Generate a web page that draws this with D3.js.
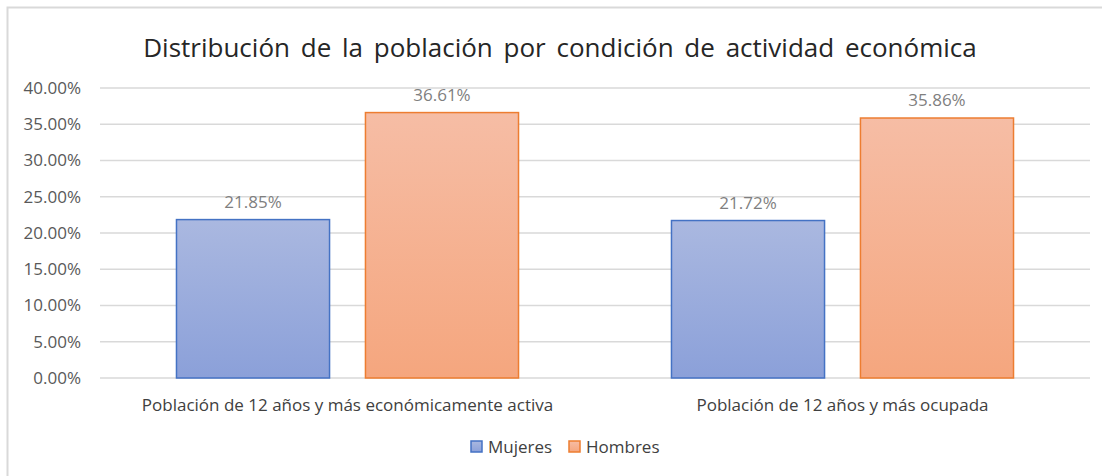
<!DOCTYPE html>
<html>
<head>
<meta charset="utf-8">
<script src="https://cdn.jsdelivr.net/npm/d3@7"></script>
<style>
  body { margin: 0; background: #fff; }
  svg { display: block; font-family: "Open Sans", Lato, sans-serif; }
</style>
</head>
<body>
<div id="chart"></div>
<script>
// data
const categories = ["Población de 12 años y más económicamente activa", "Población de 12 años y más ocupada"];
const seriesNames = ["Mujeres", "Hombres"];
const mujeres = [21.85, 21.72];
const hombres = [36.61, 35.86];
const yTicks = [0, 5, 10, 15, 20, 25, 30, 35, 40];

const W = 1102, H = 476;
const margin = { top: 88, right: 12, bottom: 98, left: 100 };

const svg = d3.select("#chart").append("svg")
  .attr("width", W).attr("height", H);

// gradients, light at top, darker at base
const defs = svg.append("defs");
const grads = [
  { id: "gM", top: "#aab8e0", bot: "#8ba0d9" },
  { id: "gH", top: "#f6bda5", bot: "#f5a67e" }
];
grads.forEach(g => {
  const lg = defs.append("linearGradient").attr("id", g.id)
    .attr("x1", 0).attr("y1", 0).attr("x2", 0).attr("y2", 1);
  lg.append("stop").attr("offset", "0%").attr("stop-color", g.top);
  lg.append("stop").attr("offset", "100%").attr("stop-color", g.bot);
});
const fills = ["url(#gM)", "url(#gH)"];
const strokes = ["#4472c4", "#ed7d31"];

// chart area border (only top/left are inside the picture)
svg.append("path")
  .attr("d", "M7.5," + H + " V7.5 H" + W)
  .attr("fill", "none").attr("stroke", "#d9d9d9").attr("stroke-width", 2);

const x0 = d3.scaleBand().domain(categories)
  .range([margin.left, W - margin.right])
  .paddingInner(0.309).paddingOuter(0.1545);
const x1 = d3.scaleBand().domain(seriesNames)
  .range([0, x0.bandwidth()]).paddingInner(0.19);
const y = d3.scaleLinear().domain([0, 40])
  .range([H - margin.bottom, margin.top]);

// gridlines
svg.append("g").selectAll("line").data(yTicks).enter().append("line")
  .attr("x1", margin.left).attr("x2", W - margin.right)
  .attr("y1", d => y(d)).attr("y2", d => y(d))
  .attr("stroke", "#d9d9d9").attr("stroke-width", 1.3);

// y axis labels
const yAxis = d3.axisLeft(y).tickValues(yTicks)
  .tickFormat(d => d.toFixed(2) + "%").tickSize(0).tickPadding(0);
const ya = svg.append("g").attr("transform", "translate(81,0)").call(yAxis);
ya.select(".domain").remove();
ya.selectAll("text").attr("fill", "#595959").style("font-size", "17px")
  .style("font-family", "'Open Sans', Lato, sans-serif");

const rows = categories.map((c, i) => ({
  cat: c,
  vals: [{ s: 0, v: mujeres[i] }, { s: 1, v: hombres[i] }]
}));

const grp = svg.append("g").selectAll("g").data(rows).enter().append("g")
  .attr("transform", d => "translate(" + x0(d.cat) + ",0)");

grp.selectAll("rect").data(d => d.vals).enter().append("rect")
  .attr("x", d => x1(seriesNames[d.s]))
  .attr("width", x1.bandwidth())
  .attr("y", d => y(d.v))
  .attr("height", d => y(0) - y(d.v))
  .attr("fill", d => fills[d.s])
  .attr("stroke", d => strokes[d.s]).attr("stroke-width", 1.5);

grp.selectAll("text").data(d => d.vals).enter().append("text")
  .attr("x", d => x1(seriesNames[d.s]) + x1.bandwidth() / 2)
  .attr("y", d => y(d.v) - 12)
  .attr("text-anchor", "middle")
  .attr("fill", "#7f7f7f").style("font-size", "17px")
  .text(d => d.v.toFixed(2) + "%");

// category labels
svg.append("g").selectAll("text").data(categories).enter().append("text")
  .attr("x", d => x0(d) + x0.bandwidth() / 2)
  .attr("y", 411)
  .attr("text-anchor", "middle")
  .attr("fill", "#404040").style("font-size", "17px")
  .text(d => d);

// title
svg.append("text")
  .attr("x", 560).attr("y", 57)
  .attr("text-anchor", "middle")
  .attr("fill", "#262626").style("font-size", "26px")
  .style("word-spacing", "4px")
  .text("Distribución de la población por condición de actividad económica");

// legend
const legend = svg.append("g").attr("transform", "translate(471,441)");
const lx = [0, 98];
seriesNames.forEach((s, i) => {
  const g = legend.append("g").attr("transform", "translate(" + lx[i] + ",0)");
  g.append("rect").attr("x", 0).attr("y", 0).attr("width", 11).attr("height", 11)
    .attr("fill", fills[i]).attr("stroke", strokes[i]).attr("stroke-width", 1.5);
  g.append("text").attr("x", 17).attr("y", 12)
    .attr("fill", "#404040").style("font-size", "17px").text(s);
});
</script>
</body>
</html>
